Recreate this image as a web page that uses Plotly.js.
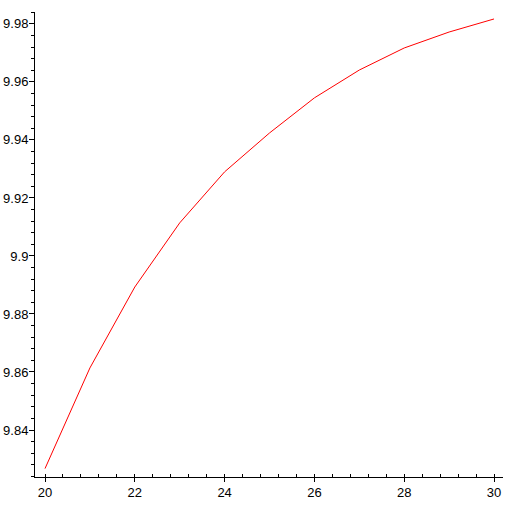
<!DOCTYPE html>
<html>
<head>
<meta charset="utf-8">
<script src="https://cdn.plot.ly/plotly-3.0.1.min.js"></script>
<style>html,body{margin:0;padding:0;background:#fff;}#chart{width:507px;height:507px;}</style>
</head>
<body>
<div id="chart"></div>
<script>
const xValues = [20, 21, 22, 23, 24, 25, 26, 27, 28, 29, 30];
const yValues = [9.8267, 9.8614, 9.8893, 9.9114, 9.9290, 9.9424, 9.9545, 9.9641, 9.9717, 9.9772, 9.9817];

const trace = {
  x: xValues,
  y: yValues,
  type: 'scatter',
  mode: 'lines',
  line: {color: '#ff0000', width: 1},
  hoverinfo: 'skip'
};

const layout = {
  width: 507,
  height: 507,
  margin: {l: 35, r: 4, t: 12, b: 30},
  paper_bgcolor: '#ffffff',
  plot_bgcolor: '#ffffff',
  showlegend: false,
  font: {family: 'Liberation Sans, Arial, sans-serif', size: 13, color: '#000'},
  xaxis: {
    range: [19.777, 30.2],
    tick0: 20,
    dtick: 2,
    showgrid: false,
    zeroline: false,
    showline: true,
    linecolor: '#000',
    linewidth: 1,
    ticks: 'outside',
    ticklen: 4,
    tickcolor: '#000',
    ticklabelstandoff: -1,
    minor: {dtick: 0.4, tick0: 20, ticks: 'inside', ticklen: 3, tickcolor: '#000', showgrid: false}
  },
  yaxis: {
    range: [9.8238, 9.9841],
    tick0: 9.84,
    dtick: 0.02,
    showgrid: false,
    zeroline: false,
    showline: true,
    linecolor: '#000',
    linewidth: 1,
    ticks: 'outside',
    ticklen: 5,
    tickcolor: '#000',
    ticklabelstandoff: -2,
    minor: {dtick: 0.004, tick0: 9.84, ticks: 'outside', ticklen: 3, tickcolor: '#000', showgrid: false}
  }
};

Plotly.newPlot('chart', [trace], layout, {staticPlot: true, displayModeBar: false});
</script>
</body>
</html>
